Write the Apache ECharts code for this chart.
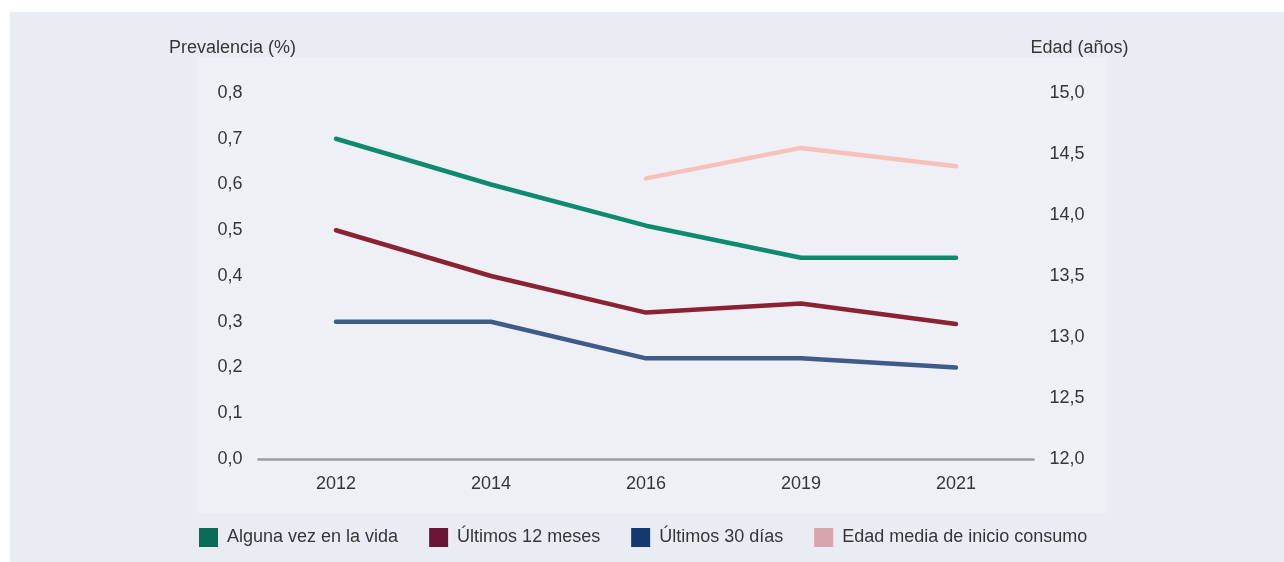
<!DOCTYPE html>
<html>
<head>
<meta charset="utf-8">
<script src="https://cdn.jsdelivr.net/npm/echarts@6/dist/echarts.min.js"></script>
<style>
html,body{margin:0;padding:0;background:#ffffff;}
#c{width:1284px;height:562px;}
</style>
</head>
<body>
<div id="c"></div>
<script>
const categories = ['2012', '2014', '2016', '2019', '2021'];
const algunaVez = [0.70, 0.60, 0.51, 0.44, 0.44];
const ultimos12 = [0.50, 0.40, 0.32, 0.34, 0.295];
const ultimos30 = [0.30, 0.30, 0.22, 0.22, 0.20];
const edadMedia = [null, null, 14.3, 14.55, 14.4];
const seriesNames = ['Alguna vez en la vida', 'Últimos 12 meses', 'Últimos 30 días', 'Edad media de inicio consumo'];
const lineColors = ['#0e8a6f', '#8b2233', '#3f5b8a', '#f7c0bb'];
const legendColors = ['#0a6b58', '#6b1535', '#133a6e', '#d8a3aa'];

const FONT = 'Liberation Sans, Arial, sans-serif';
const FS = 18;
const TXT = '#363636';
const chart = echarts.init(document.getElementById('c'), null, {renderer: 'canvas'});

const dataSets = [algunaVez, ultimos12, ultimos30, edadMedia];

const option = {
  backgroundColor: 'transparent',
  animation: false,
  textStyle: {fontFamily: FONT},
  graphic: [
    {type: 'rect', z: -10, shape: {x: 10, y: 12, width: 1274, height: 550}, style: {fill: '#e9ecf3'}},
    {type: 'rect', z: -9, shape: {x: 197, y: 57, width: 910, height: 456}, style: {fill: '#eef0f5'}}
  ],
  grid: {left: 258.5, right: 250.5, top: 93, bottom: 103, containLabel: false},
  legend: {
    left: 194, top: 523, icon: 'rect', itemWidth: 19, itemHeight: 19, itemGap: 31,
    textStyle: {fontSize: FS, color: TXT, fontFamily: FONT, padding: [0, 0, 0, 4]},
    data: seriesNames.map((n, i) => ({name: n, itemStyle: {color: legendColors[i], borderWidth: 0}}))
  },
  xAxis: {
    type: 'category', data: categories, boundaryGap: true,
    axisLine: {show: true, lineStyle: {color: '#9c9c9c', width: 2.5}},
    axisTick: {show: false},
    axisLabel: {fontSize: FS, color: TXT, margin: 16, fontFamily: FONT},
    splitLine: {show: false}
  },
  yAxis: [
    {
      type: 'value', min: 0, max: 0.8, interval: 0.1, position: 'left',
      name: 'Prevalencia (%)', nameLocation: 'end', nameGap: 36,
      nameTextStyle: {fontSize: FS, color: TXT, align: 'center', padding: [0, 0, 0, -52], fontFamily: FONT},
      axisLine: {show: false}, axisTick: {show: false}, splitLine: {show: false},
      axisLabel: {fontSize: FS, color: TXT, margin: 16, fontFamily: FONT,
        formatter: v => v.toFixed(1).replace('.', ',')}
    },
    {
      type: 'value', min: 12, max: 15, interval: 0.5, position: 'right',
      name: 'Edad (años)', nameLocation: 'end', nameGap: 36,
      nameTextStyle: {fontSize: FS, color: TXT, align: 'center', padding: [0, 0, 0, 92], fontFamily: FONT},
      axisLine: {show: false}, axisTick: {show: false}, splitLine: {show: false},
      axisLabel: {fontSize: FS, color: TXT, margin: 16, fontFamily: FONT,
        formatter: v => v.toFixed(1).replace('.', ',')}
    }
  ],
  series: dataSets.map((d, i) => ({
    name: seriesNames[i], type: 'line', data: d, yAxisIndex: i === 3 ? 1 : 0,
    showSymbol: false, symbol: 'none', connectNulls: false,
    lineStyle: {color: lineColors[i], width: 4.5, cap: 'round', join: 'round'},
    itemStyle: {color: lineColors[i]},
    z: i === 3 ? 1 : 3
  }))
};
chart.setOption(option);
</script>
</body>
</html>
